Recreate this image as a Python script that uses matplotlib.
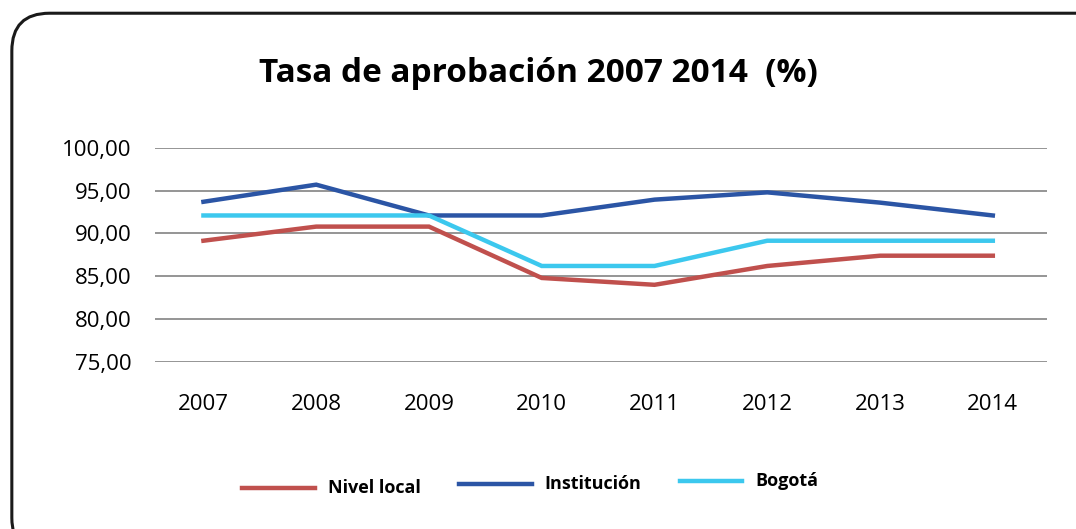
import matplotlib.pyplot as plt
from matplotlib.patches import FancyBboxPatch
from matplotlib.lines import Line2D
from matplotlib.ticker import FuncFormatter

years = ["2007", "2008", "2009", "2010", "2011", "2012", "2013", "2014"]
nivel_local = [89.15, 90.8, 90.8, 84.8, 84.0, 86.2, 87.4, 87.4]
institucion = [93.7, 95.7, 92.1, 92.1, 93.95, 94.8, 93.6, 92.1]
bogota = [92.1, 92.1, 92.1, 86.2, 86.2, 89.15, 89.15, 89.15]
y_ticks = [75, 80, 85, 90, 95, 100]

series = [
    ("Nivel local", nivel_local, "#C0504D"),
    ("Institución", institucion, "#2B55A5"),
    ("Bogotá", bogota, "#3CC8EE"),
]

plt.rcParams['font.family'] = ['Open Sans', 'DejaVu Sans']

fig = plt.figure(figsize=(10.76, 5.29), dpi=100)

# Rounded frame around the chart
frame = FancyBboxPatch((0.011, -0.05), 1.1, 1.025, boxstyle="round,pad=0,rounding_size=0.035",
                       transform=fig.transFigure, facecolor="none", edgecolor="#1a1a1a",
                       linewidth=2.2, mutation_aspect=1076 / 529, zorder=0)
fig.add_artist(frame)

ax = fig.add_axes([0.144, 0.316, 0.829, 0.4045])
ax.set_facecolor("none")
x = list(range(len(years)))
for name, vals, color in series:
    ax.plot(x, vals, color=color, linewidth=3.2, solid_joinstyle="miter", zorder=3)

ax.set_xlim(-0.43, 7.48)
ax.set_ylim(75, 100)
ax.set_yticks(y_ticks)
ax.yaxis.set_major_formatter(FuncFormatter(lambda v, p: f"{v:.2f}".replace(".", ",")))
ax.set_xticks(x)
ax.set_xticklabels(years)
ax.grid(axis="y", color="#8c8c8c", linewidth=1.3)
ax.set_axisbelow(True)
ax.tick_params(length=0, labelsize=16, colors="black")
ax.tick_params(axis="x", pad=23)
ax.tick_params(axis="y", pad=17)
for s in ax.spines.values():
    s.set_visible(False)

fig.text(0.5, 0.862, "Tasa de aprobación 2007 2014  (%)", ha="center", va="center",
         fontsize=24, fontweight="bold")

# Legend drawn by hand (entries sit at slightly different heights)
legend_pos = [(0.225, 0.293, 0.078), (0.427, 0.494, 0.085), (0.632, 0.690, 0.090)]
for (name, vals, color), (x0, x1, yy) in zip(series, legend_pos):
    fig.add_artist(Line2D([x0, x1], [yy, yy], color=color, linewidth=3.2,
                          transform=fig.transFigure))
    fig.text(x1 + 0.012, yy, name, ha="left", va="center", fontsize=13, fontweight="bold")

fig.savefig("out.png", dpi=100)
